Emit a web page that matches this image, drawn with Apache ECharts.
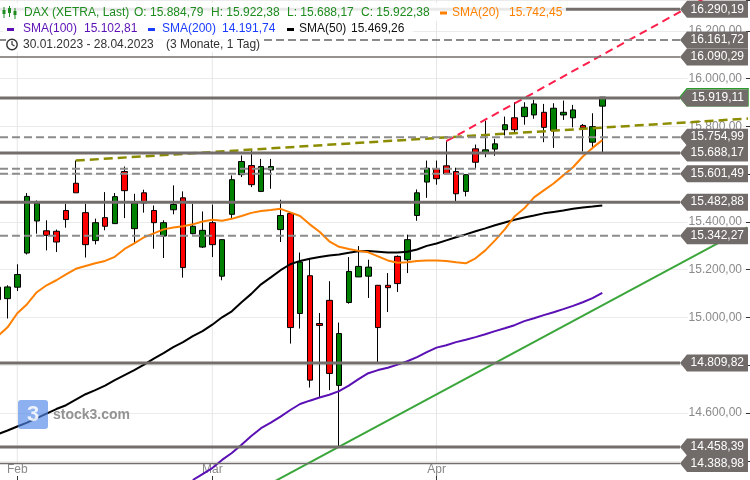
<!DOCTYPE html>
<html><head><meta charset="utf-8">
<script src="https://cdn.jsdelivr.net/npm/echarts@6/dist/echarts.min.js"></script>
<style>html,body{margin:0;padding:0;background:#fff}#c{width:750px;height:480px}</style>
</head><body><div id="c"></div>
<script>
const FONT = '"Liberation Sans", Arial, sans-serif';

// trading days 30.01.2023 - 28.04.2023
const dates = [
  '30.01.','31.01.',
  '01.02.','02.02.','03.02.','06.02.','07.02.','08.02.','09.02.','10.02.','13.02.','14.02.','15.02.','16.02.','17.02.','20.02.','21.02.','22.02.','23.02.','24.02.','27.02.','28.02.',
  '01.03.','02.03.','03.03.','06.03.','07.03.','08.03.','09.03.','10.03.','13.03.','14.03.','15.03.','16.03.','17.03.','20.03.','21.03.','22.03.','23.03.','24.03.','27.03.','28.03.','29.03.','30.03.','31.03.',
  '03.04.','04.04.','05.04.','06.04.','11.04.','12.04.','13.04.','14.04.','17.04.','18.04.','19.04.','20.04.','21.04.','24.04.','25.04.','26.04.','27.04.','28.04.'
];
const monthNames = {'02':'Feb','03':'Mär','04':'Apr'};

const open  = [15075,15079,15127,15270,15404,15363,15361,15448,15562,15439,15322,15418,15393,15611,15372,15522,15448,15341,15451,15501,15351,15295,15397,15173,15432,15598,15636,15528,15618,15368,15435,15017,15175,14975,15072,14716,15063,15170,15173,15135,15135,15256,15242,15427,15567,15623,15635,15611,15528,15706,15688,15705,15786,15836,15841,15848,15859,15783,15848,15836,15804,15734,15884.79];
const close = [15127,15128,15180,15507,15479,15344,15316,15410,15522,15305,15397,15382,15506,15531,15479,15479,15397,15397,15473,15209,15382,15365,15305,15326,15577,15653,15556,15632,15632,15427,14958,15232,14738,14967,14766,14933,15193,15214,15211,14958,15125,15142,15326,15522,15625,15581,15602,15518,15598,15650,15702,15727,15807,15786,15880,15894,15796,15876,15859,15869,15794,15799,15922.38];
const low   = [15060,14996,15111,15264,15351,15281,15274,15376,15522,15251,15306,15365,15393,15416,15309,15439,15288,15249,15432,15167,15348,15291,15253,15156,15414,15588,15546,15525,15539,15316,14891,14954,14707,14668,14696,14458.39,15058,15170,15082,14809.82,15023,15107,15186,15405,15501,15556,15602,15486,15507,15625,15671,15677,15762,15771,15807,15832,15734,15710,15827,15796,15695,15713,15688.17];
const high  = [15150,15135,15223,15521,15490,15407,15368,15476,15657,15476,15414,15525,15521,15632,15518,15535,15469,15407,15553,15528,15476,15444,15473,15328,15595,15678,15699,15664,15664,15493,15441,15272,15247,15019,15152,14979,15253,15299,15242,15135,15186,15260,15347,15536,15657,15657,15738,15627,15598,15724,15824,15748,15841,15901,15901,15911,15894,15897,15908,15890,15810,15855,15922.38];

const sma20 = [14922,14959,15018,15056,15106,15135,15156,15181,15204,15216,15227,15237,15254,15287,15310,15336,15352,15369,15377,15382,15390,15402,15409,15405,15413,15425,15438,15446,15450,15455,15440,15425,15390,15359,15319,15296,15287,15279,15273,15256,15239,15229,15231,15237,15239,15239,15237,15231,15227,15248,15281,15323,15369,15423,15457,15503,15532,15561,15595,15629,15674,15710,15742.45];
const sma50 = [14512,14527,14544,14560,14579,14598,14617,14633,14656,14679,14696,14715,14738,14759,14780,14803,14828,14851,14876,14897,14922,14943,14970,15001,15026,15064,15099,15139,15168,15198,15223,15237,15246,15253,15260,15264,15271,15277,15278,15275,15272,15272,15275,15285,15300,15310,15323,15336,15348,15361,15373,15386,15398,15409,15419,15427,15436,15442,15448,15455,15461,15465,15469.26];
const sma100Start = 20;
const sma100 = [14320,14345,14370,14404,14433,14468,14504,14537,14560,14585,14613,14638,14652,14665,14677,14692,14715,14742,14767,14780,14790,14803,14817,14834,14855,14874,14884,14897,14907,14918,14930,14943,14955,14968,14985,14997,15010,15022,15035,15049,15064,15081,15102.81];
const sma200Last = 14191.74;

// trend lines: [index, value] anchor points
const trendOlive = [[8, 15657], [77, 15833]];
const trendRed   = [[46, 15738], [77, 16438]];
const trendGreen = [[25, 14240], [77, 15380]];

// horizontal price levels
const solidLevels  = [16290.19, 15919.11, 15688.17, 15482.88, 14809.82, 14458.39];
const thinLevels   = [16090.29, 14388.98];
const dashedLevels = [16161.72, 15754.99, 15601.49, 15342.27];
const dashedPlain  = [15622.7];

const Y_MIN = 14320, Y_MAX = 16329;
const X_MIN = 0.226, X_MAX = 76.74;

function fmt(v) {
  const s = v.toFixed(2).split('.');
  return s[0].replace(/\B(?=(\d{3})+(?!\d))/g, '.') + ',' + s[1];
}
const monthIdx = [];
const monthLab = {};
dates.forEach((d, i) => {
  if (i > 0 && d.slice(3, 5) !== dates[i - 1].slice(3, 5)) { monthIdx.push(i); monthLab[i] = monthNames[d.slice(3, 5)]; }
});

function levelSeries(levels, st, labeled, z) {
  return {
    type: 'custom', z: z, silent: true, clip: false,
    data: levels.map(v => [X_MIN, v]),
    renderItem: function (params, api) {
      const cs = params.coordSys;
      const v = api.value(1);
      const y = api.coord([api.value(0), v])[1];
      const right = cs.x + cs.width;
      const tipX = right - 66;
      const ch = [{ type: 'line', shape: { x1: cs.x, y1: y, x2: tipX, y2: y },
        style: { stroke: st.color, lineWidth: st.width, lineDash: st.dash || null } }];
      if (labeled) {
        const h = 17, cy = Math.max(y, h / 2 + 0.5);
        ch.push({ type: 'polygon', shape: { points: [[tipX, cy], [tipX + 7, cy - h / 2], [right + 2, cy - h / 2], [right + 2, cy + h / 2], [tipX + 7, cy + h / 2]] },
          style: { fill: st.boxFill || '#716c69', stroke: st.boxStroke || null, lineWidth: 1.5 } });
        ch.push({ type: 'text', style: { text: fmt(v), x: right - 2, y: cy, align: 'right', verticalAlign: 'middle', fill: '#fff', font: '12px ' + FONT } });
      }
      return { type: 'group', children: ch };
    }
  };
}

const last = dates.length - 1;
const legend = [];
function txt(t, x, y, color) { legend.push({ type: 'text', z: 20, style: { text: t, x: x, y: y, fill: color, font: '12px ' + FONT, verticalAlign: 'middle' } }); }
function bar(x, y, color) { legend.push({ type: 'rect', z: 20, shape: { x: x, y: y - 1.5, width: 7, height: 3 }, style: { fill: color } }); }
// backgrounds
legend.push({ type: 'rect', z: 19, shape: { x: 0, y: 3, width: 566, height: 18 }, style: { fill: 'rgba(255,255,255,0.85)' } });
legend.push({ type: 'rect', z: 19, shape: { x: 3, y: 21, width: 410, height: 16 }, style: { fill: 'rgba(255,255,255,0.85)' } });
legend.push({ type: 'rect', z: 19, shape: { x: 6, y: 37, width: 257, height: 15 }, style: { fill: 'rgba(255,255,255,0.95)' } });
// row 1 icon
const G = '#1e8c1e';
[[4, 7, 18, 10, 14], [9.5, 6, 17, 8, 13], [15, 8, 19, 11, 15]].forEach(a => {
  legend.push({ type: 'line', z: 20, shape: { x1: a[0], y1: a[1], x2: a[0], y2: a[2] }, style: { stroke: G, lineWidth: 1 } });
  legend.push({ type: 'rect', z: 20, shape: { x: a[0] - 1.5, y: a[3], width: 3, height: a[4] - a[3] }, style: { fill: G } });
});
txt('DAX (XETRA, Last)', 24, 13, G);
txt('O: ' + fmt(open[last]), 134, 13, G);
txt('H: ' + fmt(high[last]), 211, 13, G);
txt('L: ' + fmt(low[last]), 287, 13, G);
txt('C: ' + fmt(close[last]), 361, 13, G);
bar(440, 13, '#ff8000');
txt('SMA(20)', 452, 13, '#ff8000');
txt(fmt(sma20[last]), 509, 13, '#ff8000');
const P = '#5a10b5', B = '#1a3cff';
bar(7, 29.5, P); txt('SMA(100)', 23, 29, P); txt(fmt(sma100[sma100.length - 1]), 84, 29, P);
bar(148, 29.5, B); txt('SMA(200)', 162, 29, B); txt(fmt(sma200Last), 222, 29, B);
bar(287, 29.5, '#000'); txt('SMA(50)', 299, 29, '#111'); txt(fmt(sma50[last]), 351, 29, '#111');
legend.push({ type: 'circle', z: 20, shape: { cx: 12, cy: 44.5, r: 5.2 }, style: { fill: 'none', stroke: '#333', lineWidth: 1.4 } });
legend.push({ type: 'polyline', z: 20, shape: { points: [[12, 41], [12, 44.5], [14.5, 46]] }, style: { fill: 'none', stroke: '#333', lineWidth: 1.2 } });
txt('30.01.2023 - 28.04.2023', 23, 45, '#333');
txt('(3 Monate, 1 Tag)', 166, 45, '#333');
// watermark
legend.push({ type: 'rect', z: 20, shape: { x: 18, y: 400, width: 30, height: 29, r: 3 }, style: { fill: '#4f86e8', opacity: 0.65 } });
legend.push({ type: 'text', z: 21, style: { text: '3', x: 33, y: 415, align: 'center', verticalAlign: 'middle', fill: 'rgba(255,255,255,0.85)', font: 'bold 22px ' + FONT } });
legend.push({ type: 'text', z: 21, style: { text: 'stock3.com', x: 53, y: 415, verticalAlign: 'middle', fill: 'rgba(120,120,120,0.8)', font: 'bold 14px ' + FONT } });

const chart = echarts.init(document.getElementById('c'), null, { renderer: 'canvas' });
chart.setOption({
  animation: false,
  backgroundColor: '#fff',
  textStyle: { fontFamily: FONT },
  grid: { left: 0, right: 4, top: 0, bottom: 0 },
  xAxis: {
    type: 'value', min: X_MIN, max: X_MAX,
    axisLine: { show: false }, splitLine: { show: false },
    axisTick: { show: true, inside: true, length: 4, customValues: monthIdx, lineStyle: { color: '#333' } },
    axisLabel: { inside: true, margin: 4, customValues: monthIdx, formatter: v => monthLab[v] || '', color: '#888', fontSize: 12, fontFamily: FONT }
  },
  yAxis: {
    type: 'value', position: 'right', min: Y_MIN, max: Y_MAX, splitNumber: 10,
    axisLine: { show: false },
    axisTick: { show: true, inside: false, length: 4, lineStyle: { color: '#333' } },
    axisLabel: { inside: true, margin: 3, color: '#8a8a8a', fontSize: 12, fontFamily: FONT, backgroundColor: '#fff', padding: [0, 1],
      formatter: v => (Math.abs(v % 200) < 1e-6 ? fmt(v) : '') },
    splitLine: { lineStyle: { color: '#ebebeb', width: 1 } }
  },
  graphic: { elements: legend },
  series: [
    { type: 'custom', z: 1, silent: true, data: monthIdx.map(i => [i, Y_MAX]),
      renderItem: function (params, api) {
        const cs = params.coordSys;
        const x = api.coord([api.value(0), Y_MAX])[0];
        const yb = api.coord([api.value(0), thinLevels[thinLevels.length - 1]])[1];
        return { type: 'line', shape: { x1: x, y1: cs.y, x2: x, y2: yb }, style: { stroke: '#e6e6e6', lineWidth: 1 } };
      } },
    { type: 'candlestick', z: 2, barWidth: 6,
      data: dates.map((d, i) => [i, open[i], close[i], low[i], high[i]]),
      itemStyle: { color: '#008000', color0: '#ff0000', borderColor: '#000', borderColor0: '#000', borderWidth: 1 } },
    { type: 'line', z: 3, showSymbol: false, silent: true, data: sma100.map((v, i) => [i + sma100Start, v]), lineStyle: { color: P, width: 2 } },
    { type: 'line', z: 3, showSymbol: false, silent: true, data: sma50.map((v, i) => [i, v]), lineStyle: { color: '#000', width: 2 } },
    { type: 'line', z: 3, showSymbol: false, silent: true, data: sma20.map((v, i) => [i, v]), lineStyle: { color: '#ff8000', width: 2 } },
    { type: 'line', z: 4, showSymbol: false, silent: true, data: trendGreen, lineStyle: { color: '#3aa63a', width: 2 } },
    { type: 'line', z: 4, showSymbol: false, silent: true, data: trendOlive, lineStyle: { color: '#8c8c00', width: 2.5, type: [9, 5] } },
    { type: 'line', z: 4, showSymbol: false, silent: true, data: trendRed, lineStyle: { color: '#ff1f4b', width: 2, type: [8, 5] } },
    levelSeries([close[last]], { color: 'rgba(0,0,0,0)', width: 0, boxFill: '#fff', boxStroke: '#2a9a2a' }, true, 5),
    levelSeries(dashedPlain, { color: '#8c8c8c', width: 2, dash: [8, 4] }, false, 6),
    levelSeries(dashedLevels, { color: '#8c8c8c', width: 2, dash: [8, 4] }, true, 6),
    levelSeries(thinLevels, { color: '#736e6b', width: 1.5 }, true, 6),
    levelSeries(solidLevels, { color: '#736e6b', width: 3 }, true, 6)
  ]
});
</script></body></html>
